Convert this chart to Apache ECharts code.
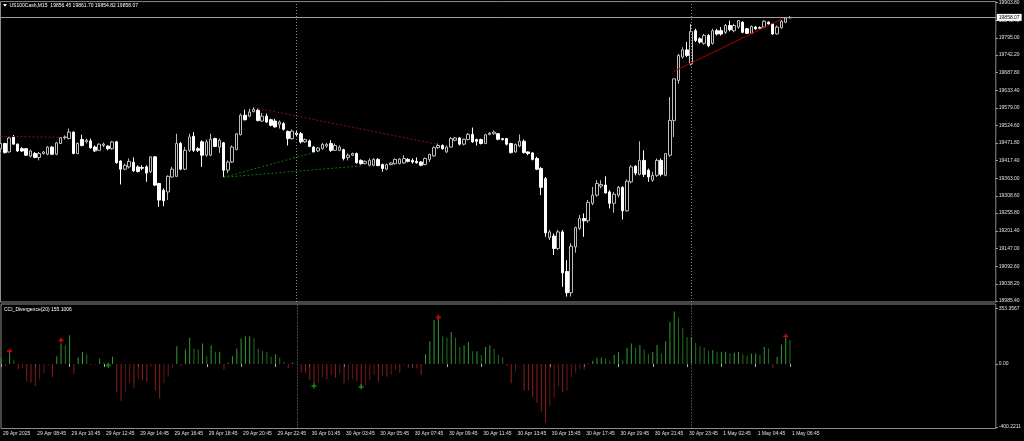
<!DOCTYPE html>
<html><head><meta charset="utf-8">
<script src="https://cdn.jsdelivr.net/npm/echarts@6/dist/echarts.min.js"></script>
<style>html,body{margin:0;padding:0;background:#000;}#c{width:1024px;height:441px;}</style>
</head><body><div id="c"></div>
<script>
// ---------- data ----------
const symbolName = 'US100Cash,M15';
const lastOHLC = [19856.45, 19861.70, 19854.82, 19858.07];
const indicatorLabel = 'CCI_Divergence(20) 155.1006';
// candles: [open, close, low, high]
const candles = [
[19454,19470,19444,19473],[19470,19442,19439,19472],[19444,19487,19442,19490],[19490,19468,19467,19496],
[19468,19447,19444,19470],[19454,19447,19444,19459],[19454,19434,19432,19456],[19431,19447,19427,19451],
[19439,19427,19425,19444],[19427,19439,19418,19444],[19439,19444,19436,19447],[19437,19459,19434,19462],
[19459,19437,19434,19462],[19437,19472,19434,19475],[19470,19488,19468,19490],[19488,19490,19482,19495],
[19485,19505,19483,19516],[19505,19439,19437,19507],[19439,19470,19437,19473],[19482,19464,19461,19497],
[19475,19480,19470,19485],[19478,19457,19454,19485],[19459,19447,19444,19464],[19449,19468,19447,19470],
[19464,19468,19459,19473],[19462,19454,19449,19464],[19454,19475,19451,19478],[19475,19411,19408,19478],
[19416,19391,19344,19418],[19391,19403,19388,19408],[19398,19415,19393,19424],[19412,19386,19383,19427],
[19398,19384,19381,19403],[19396,19394,19388,19403],[19398,19379,19352,19403],[19383,19429,19379,19431],
[19429,19342,19339,19431],[19347,19296,19275,19349],[19326,19294,19277,19332],[19321,19369,19296,19372],
[19367,19391,19365,19398],[19369,19470,19367,19500],[19470,19391,19388,19475],[19391,19449,19388,19459],
[19449,19490,19444,19500],[19492,19449,19444,19505],[19454,19449,19444,19459],[19475,19434,19398,19480],
[19434,19475,19429,19482],[19434,19483,19431,19500],[19485,19461,19459,19488],[19459,19480,19441,19485],
[19472,19388,19367,19475],[19388,19413,19379,19418],[19413,19459,19410,19464],[19451,19500,19449,19502],
[19497,19557,19495,19562],[19557,19543,19541,19574],[19554,19567,19551,19577],[19568,19575,19566,19582],
[19572,19541,19538,19577],[19539,19554,19536,19564],[19554,19536,19533,19562],[19543,19526,19523,19546],
[19539,19521,19519,19546],[19529,19536,19516,19541],[19531,19514,19510,19536],[19507,19485,19464,19510],
[19485,19508,19482,19513],[19502,19498,19490,19508],[19500,19475,19470,19505],[19475,19482,19472,19485],
[19478,19461,19459,19482],[19459,19444,19441,19462],[19447,19456,19444,19459],[19454,19467,19451,19472],
[19462,19467,19457,19472],[19470,19449,19444,19480],[19449,19464,19447,19470],[19449,19459,19446,19464],
[19451,19424,19418,19454],[19427,19434,19418,19439],[19434,19439,19431,19442],[19439,19411,19408,19442],
[19418,19408,19405,19421],[19408,19415,19406,19418],[19403,19418,19400,19424],[19403,19421,19400,19425],
[19421,19402,19400,19425],[19405,19393,19383,19408],[19391,19405,19388,19408],[19405,19410,19403,19413],
[19408,19421,19405,19424],[19408,19422,19406,19425],[19410,19424,19408,19434],[19421,19415,19412,19425],
[19418,19413,19408,19424],[19415,19411,19408,19427],[19413,19403,19400,19416],[19405,19424,19403,19427],
[19421,19436,19413,19439],[19432,19457,19429,19461],[19457,19464,19454,19470],[19464,19454,19451,19467],
[19444,19459,19441,19464],[19459,19485,19457,19490],[19480,19487,19477,19490],[19487,19468,19464,19490],
[19468,19483,19464,19485],[19482,19498,19480,19502],[19498,19475,19472,19519],[19482,19477,19464,19485],
[19482,19470,19467,19485],[19470,19497,19468,19500],[19498,19502,19495,19505],[19500,19505,19497,19510],
[19500,19483,19480,19502],[19485,19482,19479,19487],[19485,19468,19464,19487],[19470,19442,19439,19472],
[19444,19467,19442,19470],[19462,19477,19459,19498],[19477,19442,19439,19482],[19444,19439,19434,19446],
[19441,19421,19418,19443],[19424,19391,19388,19429],[19393,19335,19311,19398],[19362,19195,19183,19367],
[19180,19198,19173,19204],[19185,19147,19127,19193],[19147,19198,19142,19204],[19198,19072,19029,19204],
[19076,19011,18999,19111],[19011,19154,18999,19163],[19152,19211,19134,19214],[19209,19239,19204,19250],
[19239,19232,19183,19255],[19232,19289,19226,19296],[19286,19311,19280,19336],[19311,19347,19306,19357],
[19339,19344,19332,19357],[19342,19318,19316,19369],[19321,19286,19270,19326],[19286,19314,19257,19321],
[19311,19335,19304,19339],[19335,19263,19236,19339],[19263,19354,19260,19359],[19352,19398,19347,19403],
[19400,19379,19372,19403],[19375,19418,19372,19477],[19418,19375,19367,19449],[19388,19367,19352,19393],
[19357,19372,19352,19383],[19372,19418,19367,19424],[19418,19375,19369,19424],[19372,19439,19369,19439],
[19434,19541,19429,19613],[19541,19669,19490,19669],[19664,19741,19654,19746],[19736,19758,19731,19766],
[19758,19741,19736,19782],[19715,19814,19710,19838],[19817,19787,19782,19823],[19792,19782,19777,19797],
[19778,19802,19774,19807],[19802,19771,19766,19807],[19778,19817,19774,19823],[19817,19807,19802,19823],
[19817,19807,19802,19828],[19812,19833,19807,19838],[19833,19820,19815,19848],[19817,19833,19812,19838],
[19828,19848,19823,19850],[19843,19812,19809,19846],[19823,19809,19807,19826],[19809,19830,19807,19833],
[19828,19823,19820,19831],[19826,19825,19823,19830],[19828,19846,19825,19850],[19843,19838,19836,19846],
[19838,19807,19804,19840],[19807,19828,19805,19833],[19826,19846,19823,19850],[19843,19856,19840,19859],
[19856.45,19858.07,19854.82,19861.70]
];
const cci = [
36,-10,67,25,-32,-27,-111,-118,-139,-97,-59,-10,-84,50,130,120,183,-63,42,78,
63,-6,-5,36,10,-5,46,-181,-233,-175,-118,-149,-97,-101,-111,-17,-168,-219,-122,-80,
-21,114,-10,93,168,99,93,130,50,120,78,78,-34,8,50,99,162,177,177,162,
99,84,78,46,63,42,15,-27,8,3,-55,-59,-101,-126,-118,-84,-97,-69,-86,-63,
-122,-101,-97,-111,-147,-133,-101,-69,-111,-76,-80,-69,-38,-55,-6,-23,-27,-27,-69,63,
145,278,288,177,168,204,168,109,120,141,82,82,57,109,120,99,57,42,-13,-122,
-48,-4,-168,-168,-210,-248,-301,-374,-269,-217,-143,-181,-168,-84,-55,-32,-34,3,21,40,
42,36,21,57,78,25,103,130,103,122,93,63,78,122,67,145,267,334,295,229,
172,172,135,114,103,84,88,78,78,78,67,72,76,63,53,67,67,57,109,99,
-27,46,124,166,155.1006
];
const priceTicks = [19903.80,19849.40,19795.00,19742.20,19687.80,19633.40,19579.00,19524.60,19471.80,
  19417.40,19363.00,19308.60,19255.80,19201.40,19147.00,19092.60,19038.20,18985.40];
const cciTicks = [353.3567, 0, -400.2211];
const cciTickLabels = ['353.3567', '0.00', '-400.2211'];
// divergence lines: [[barIndex, price], [barIndex, price]]
const redDivLines = [[[0,19492],[14,19489]], [[59,19581],[102,19467]]];
const greenDivLines = [[[52,19366],[73,19442]], [[52,19366],[84,19401]], [[22,19447],[24,19447]]];
const trendLine = [[157,19692],[183,19859]];
const redArrows = [[2,82],[14,151],[102,297],[183,177]];
const greenArrows = [[25,-8],[73,-139],[84,-145]];
const daySeparators = [69,161];
const sessionStart = {y:2025, m:3, d:29, h:6, min:45};
const shiftSlots = 48;

// ---------- categories (15-min bars, daily break 00:00-00:59) ----------
const MON = ['Jan','Feb','Mar','Apr','May','Jun','Jul','Aug','Sep','Oct','Nov','Dec'];
const times = [];
let t = Date.UTC(sessionStart.y, sessionStart.m, sessionStart.d, sessionStart.h, sessionStart.min);
while (times.length < candles.length) {
  const d = new Date(t);
  if (d.getUTCHours() !== 0) times.push(d);
  t += 15*60000;
}
const pad = n => (n<10?'0':'')+n;
const categories = times.map((d,i) => i===0 ? d.getUTCDate()+' '+MON[d.getUTCMonth()]+' '+d.getUTCFullYear()
  : d.getUTCDate()+' '+MON[d.getUTCMonth()]+' '+pad(d.getUTCHours())+':'+pad(d.getUTCMinutes()));
for (let k=0;k<shiftSlots;k++) categories.push('s'+k);

const FONT = 'Liberation Sans';
const FS = 5;
const showIdx = i => i % 8 === 0 && i < candles.length;

const chart = echarts.init(document.getElementById('c'), null, {renderer:'canvas'});
const sepLines = daySeparators.map(i => ({xAxis: categories[i], lineStyle:{color:'#8a8a8a', type:[1,2], width:1}, label:{show:false}}));

const series = [
  {
    type:'candlestick', xAxisIndex:0, yAxisIndex:0, data:candles, barWidth:3,
    itemStyle:{color:'#000000', color0:'#ffffff', borderColor:'#bdbdbd', borderColor0:'#ffffff', borderWidth:1},
    markLine:{silent:true, symbol:['none','none'], animation:false,
      data:[{yAxis:lastOHLC[3], lineStyle:{color:'#a0a0a0', type:'solid', width:1},
        label:{show:true, position:'end', formatter:lastOHLC[3].toFixed(2), backgroundColor:'#ffffff', color:'#000',
          fontSize:FS, fontFamily:FONT, padding:[1,2,1,2], distance:1}}].concat(sepLines)}
  },
  {
    type:'bar', xAxisIndex:1, yAxisIndex:1, data:cci, barWidth:1, animation:false,
    itemStyle:{color: p => {
      const v = cci[p.dataIndex], prev = p.dataIndex>0 ? cci[p.dataIndex-1] : v;
      if (v >= 0) return v >= prev ? '#2f9e2f' : '#207020';
      return v <= prev ? '#8e1d1d' : '#6a1616';
    }},
    markLine:{silent:true, symbol:['none','none'], animation:false, data:sepLines}
  },
  {type:'scatter', xAxisIndex:1, yAxisIndex:1, data:redArrows, symbol:'path://M2,0H4V2H6V4H4V6H2V4H0V2H2Z', symbolSize:5,
    itemStyle:{color:'#e01010'}, z:5},
  {type:'scatter', xAxisIndex:1, yAxisIndex:1, data:greenArrows, symbol:'path://M2,0H4V2H6V4H4V6H2V4H0V2H2Z', symbolSize:5,
    itemStyle:{color:'#10a010'}, z:5},
  {type:'line', xAxisIndex:0, yAxisIndex:0, data:trendLine, symbol:'none', lineStyle:{color:'#b00000', width:1}, z:4}
];
redDivLines.forEach(seg => series.push({type:'line', xAxisIndex:0, yAxisIndex:0, data:seg, symbol:'none',
  lineStyle:{color:'#9a0a0a', width:1, type:[2,2]}, z:4}));
greenDivLines.forEach(seg => series.push({type:'line', xAxisIndex:0, yAxisIndex:0, data:seg, symbol:'none',
  lineStyle:{color:'#0a7a0a', width:1, type:[2,2]}, z:4}));

chart.setOption({
  backgroundColor:'#000000',
  animation:false,
  grid:[
    {left:0.5, right:28.2, top:1, height:301, show:true, borderColor:'#8c8c8c', borderWidth:1, backgroundColor:'#000'},
    {left:0.5, right:28.2, top:304, height:124.5, show:true, borderColor:'#8c8c8c', borderWidth:1, backgroundColor:'#000'}
  ],
  xAxis:[
    {type:'category', gridIndex:0, data:categories, boundaryGap:false, show:false},
    {type:'category', gridIndex:1, data:categories, boundaryGap:false,
      axisLine:{show:false},
      axisTick:{show:true, interval:(i)=>showIdx(i), length:3, lineStyle:{color:'#b0b0b0'}},
      axisLabel:{show:true, interval:(i)=>showIdx(i), align:'left', margin:3, padding:[0,0,0,2],
        color:'#e0e0e0', fontSize:FS, fontFamily:FONT},
      splitLine:{show:false}}
  ],
  yAxis:[
    {type:'value', gridIndex:0, position:'right', min:18982.3, max:19906.6, scale:true,
      axisLine:{show:false}, splitLine:{show:false},
      axisTick:{show:true, customValues:priceTicks, length:2, lineStyle:{color:'#b0b0b0'}},
      axisLabel:{show:true, customValues:priceTicks, formatter:v=>v.toFixed(2), margin:3,
        color:'#e0e0e0', fontSize:FS, fontFamily:FONT}},
    {type:'value', gridIndex:1, position:'right', min:-409.8, max:382.0,
      axisLine:{show:false}, splitLine:{show:false},
      axisTick:{show:true, customValues:cciTicks, length:2, lineStyle:{color:'#b0b0b0'}},
      axisLabel:{show:true, customValues:cciTicks, margin:3,
        formatter:v=>{const k=cciTicks.findIndex(c=>Math.abs(c-v)<1e-6); return k>=0?cciTickLabels[k]:'';},
        color:'#e0e0e0', fontSize:FS, fontFamily:FONT}}
  ],
  graphic:[
    {type:'polygon', z:100, shape:{points:[[3,4],[7,4],[5,6.8]]}, style:{fill:'#ffffff'}},
    {type:'text', z:100, left:9.5, top:3, style:{text:symbolName+'  '+lastOHLC.map(v=>v.toFixed(2)).join(' '),
      fill:'#ffffff', font:FS+'px "'+FONT+'"'}},
    {type:'text', z:100, left:4, top:306.8, style:{text:indicatorLabel, fill:'#ffffff', font:FS+'px "'+FONT+'"'}}
  ],
  series:series
});
</script></body></html>
